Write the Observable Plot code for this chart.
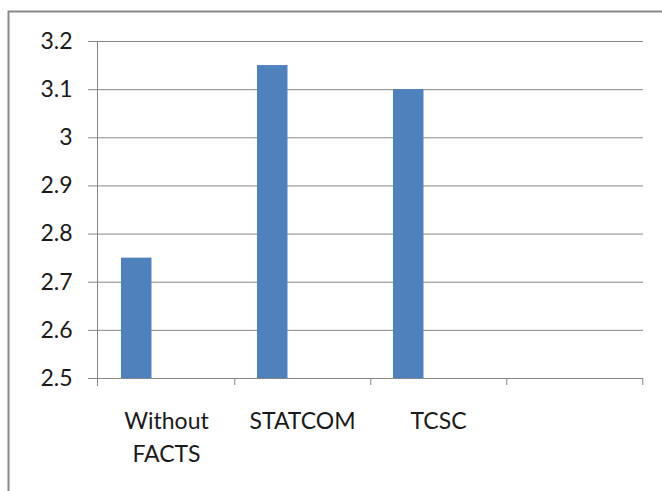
<!DOCTYPE html>
<html><head><meta charset="utf-8">
<script src="https://cdn.jsdelivr.net/npm/d3@7"></script>
<script src="https://cdn.jsdelivr.net/npm/@observablehq/plot@0.6"></script>
<style>body{margin:0;background:#fff}svg{display:block}</style>
</head><body><div id="chart"></div>
<script>
const categories = ["Without\nFACTS", "STATCOM", "TCSC", ""];
const values = [2.75, 3.15, 3.1, null];
const yTicks = [2.5, 2.6, 2.7, 2.8, 2.9, 3.0, 3.1, 3.2];

const data = categories.map((c, i) => ({cat: c, value: values[i]})).filter(d => d.value != null);
const W = 662, H = 491, ml = 97, mr = 19, mt = 41, mb = 113;
const bw = (W - ml - mr) / categories.length;
const gray = "#868686";
const font = "Lato, 'Noto Sans', sans-serif";

const chart = Plot.plot({
  width: W, height: H,
  marginLeft: ml, marginRight: mr, marginTop: mt, marginBottom: mb,
  style: {fontFamily: font, fontSize: "23px", color: "#1a1a1a", background: "#fff"},
  x: {type: "band", domain: categories, padding: 0, axis: null, label: null},
  y: {domain: [2.5, 3.2], axis: null, label: null},
  marks: [
    Plot.frame({stroke: "#8a8a8a", strokeWidth: 2, insetLeft: -(ml - 8), insetTop: -(mt - 11), insetRight: -40, insetBottom: -200}),
    Plot.gridY(yTicks, {stroke: gray, strokeOpacity: 1, insetLeft: -9}),
    Plot.barY(data, {x: "cat", y1: 2.5, y2: "value", fill: "#4f81bd", insetLeft: 23, insetRight: bw - 54}),
    Plot.frame({anchor: "left", stroke: gray, insetBottom: -7}),
    Plot.axisX({ticks: categories, tickSize: 7, tickFormat: () => "", dx: bw / 2, stroke: gray, label: null}),
    Plot.axisX({ticks: categories.slice(0, 3), tickSize: 0, tickPadding: 27, lineHeight: 1.43, fill: "#1a1a1a", fontSize: 23, label: null}),
    Plot.axisY({ticks: yTicks, tickSize: 0, tickPadding: 25, tickFormat: d => String(+d.toFixed(1)), fill: "#1a1a1a", fontSize: 23, label: null})
  ]
});
document.getElementById("chart").appendChild(chart);
</script></body></html>
